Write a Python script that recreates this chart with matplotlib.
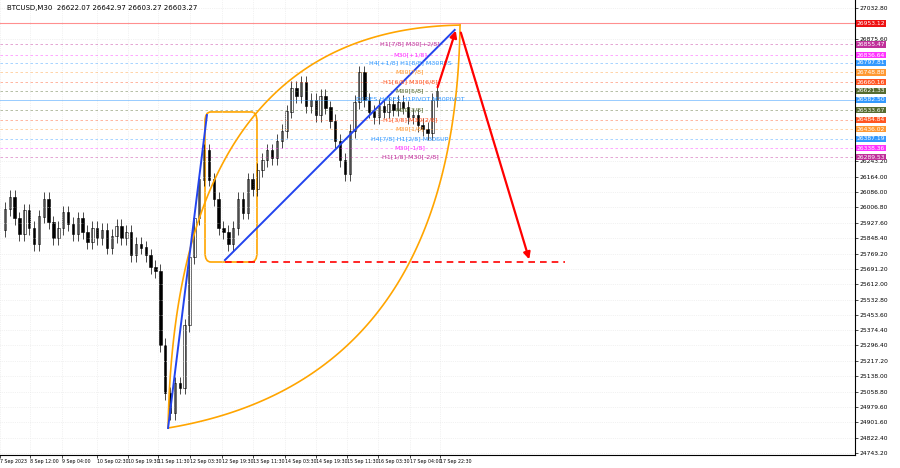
import numpy as np
import matplotlib.pyplot as plt
from matplotlib.patches import FancyBboxPatch

# ---- price closes (M30-ish, resampled) ----
closes = [25890, 26000, 26060, 25950, 25870, 25990, 25900, 25820, 25960, 26050,
          25930, 25850, 25900, 25980, 25920, 25870, 25950, 25880, 25830, 25900,
          25850, 25890, 25800, 25860, 25910, 25850, 25880, 25760, 25820, 25800,
          25760, 25700, 25680, 25300, 25050, 24950, 25100, 25080, 25400, 25750,
          25950, 26150, 26300, 26150, 26050, 25900, 25880, 25820, 25900, 26050,
          25980, 26150, 26100, 26200, 26250, 26300, 26260, 26350, 26400, 26500,
          26620, 26580, 26650, 26530, 26560, 26480, 26580, 26520, 26450, 26350,
          26250, 26180, 26400, 26550, 26700, 26560, 26500, 26470, 26530, 26500,
          26540, 26510, 26550, 26520, 26470, 26480, 26430, 26410, 26390, 26560, 26603]

# ---- levels: position on chart and the value shown in the price box ----
level_prices = [26847, 26791, 26750, 26703, 26652, 26606, 26560,
                26508, 26457, 26410, 26359, 26312, 26266]
level_boxes = [26855.47, 26836.64, 26797.81, 26748.88, 26660.16, 26621.33, 26582.50,
               26533.67, 26484.84, 26436.02, 26387.19, 26338.36, 26289.53]
level_colors = ["#c0309a", "#ff33ff", "#3399ff", "#ff9933", "#ff5522", "#556b2f", "#3399ff",
                "#556b2f", "#ff5522", "#ff9933", "#3399ff", "#ff33ff", "#c0309a"]
level_texts = ["H1[7/8] M30[+2/8]", "M30[+1/8]", "H4[+1/8] H1[8/8] M30RES", "M30[7/8]",
               "H1[6/8] M30[6/8]", "M30[5/8]", "D1RES H4RES H1PIVOT M30PIVOT", "M30[3/8]",
               "H1[3/8] M30[2/8]", "M30[1/8]", "H4[7/8] H1[2/8] M30SUP", "M30[-1/8]",
               "H1[1/8] M30[-2/8]"]
top_level = 26953.12

yticks = [24743.2, 24822.4, 24901.6, 24979.6, 25058.8, 25138.0, 25217.2, 25296.4, 25374.4,
          25453.6, 25532.8, 25612.0, 25691.2, 25769.2, 25848.4, 25927.6, 26006.8, 26086.0,
          26164.0, 26243.2, 26875.6, 27032.8]
date_labels = ["7 Sep 2023", "8 Sep 12:00", "9 Sep 04:00", "10 Sep 02:30", "10 Sep 19:30",
               "11 Sep 11:30", "12 Sep 03:30", "12 Sep 19:30", "13 Sep 11:30", "14 Sep 03:30",
               "14 Sep 19:30", "15 Sep 11:30", "16 Sep 03:30", "17 Sep 04:00", "17 Sep 22:30"]
date_pos = [0, 6.2, 12.8, 20.0, 26.3, 32.5, 39.1, 45.7, 52.1, 58.6, 65.0, 71.4, 77.8, 84.4, 90.5]

# ---- drawn objects (index, price) ----
blue1 = ([34.6, 42.6], [24872, 26482])
blue2 = ([46.3, 93.6], [25736, 26920])
red_dash = ([46.3, 116.3], [25726, 25726])
red_up = ((89.9, 26611), (94.0, 26930))
red_down = ((94.7, 26920), (109.1, 25726))
box = (42.2, 25726, 10.7, 772)
arc_start, arc_end = (34.6, 24872), (94.7, 26945)
arc_ctrl_up, arc_ctrl_low = (36.0, 26920), (93.6, 25119)

fig = plt.figure(figsize=(9, 4.68), dpi=100)
ax = fig.add_axes([0.0, 13 / 468, 855 / 900, 455 / 468])
ax.set_xlim(0, 176)
ax.set_ylim(24733, 27074)

for i in range(1, len(closes)):
    o, c = closes[i - 1], closes[i]
    ax.vlines(i, min(o, c) - 35, max(o, c) + 35, color="black", lw=0.5)
    ax.add_patch(plt.Rectangle((i - 0.25, min(o, c)), 0.5, abs(c - o) + 1,
                               facecolor="white" if c >= o else "black", edgecolor="black", lw=0.4))

ax.axhline(top_level, color="#ff4444", lw=0.8, alpha=0.6)
for p, b, col, t in zip(level_prices, level_boxes, level_colors, level_texts):
    solid = t.startswith("D1RES")
    ax.axhline(p, color=col, lw=0.7 if solid else 0.6, ls="-" if solid else (0, (3, 3)), alpha=0.5)
    ax.text(84.4, p, t, color=col, fontsize=4.6, ha="center", va="center")
    ax.text(1.002, p, f"{b:.2f}", transform=ax.get_yaxis_transform(), fontsize=4.3,
            color="white", va="center", ha="left", clip_on=False,
            bbox=dict(boxstyle="square,pad=0.15", fc=col, ec="none"))
ax.text(1.002, top_level, f"{top_level:.2f}", transform=ax.get_yaxis_transform(), fontsize=4.3,
        color="white", va="center", ha="left", clip_on=False,
        bbox=dict(boxstyle="square,pad=0.15", fc="#ee1111", ec="none"))

# orange arcs
t = np.linspace(0, 1, 100)
for ctrl in (arc_ctrl_up, arc_ctrl_low):
    bx = (1 - t) ** 2 * arc_start[0] + 2 * (1 - t) * t * ctrl[0] + t ** 2 * arc_end[0]
    by = (1 - t) ** 2 * arc_start[1] + 2 * (1 - t) * t * ctrl[1] + t ** 2 * arc_end[1]
    ax.plot(bx, by, color="orange", lw=1.2)
ax.add_patch(FancyBboxPatch((box[0], box[1]), box[2], box[3], boxstyle="round,pad=0,rounding_size=1.2",
                            mutation_aspect=40, fc="none", ec="orange", lw=1.2))
ax.plot(*blue1, color="#2244ee", lw=1.4)
ax.plot(*blue2, color="#2244ee", lw=1.4)
ax.plot(*red_dash, color="red", lw=1.2, ls=(0, (4, 3)))
for a, b in (red_up, red_down):
    ax.annotate("", xy=b, xytext=a, arrowprops=dict(arrowstyle="-|>", color="red", lw=1.6))

ax.grid(color="#e6e6e6", lw=0.5, ls=":")
ax.yaxis.tick_right()
ax.set_yticks(yticks)
ax.set_yticklabels([f"{v:.2f}" for v in yticks], fontsize=4.3)
ax.set_xticks(date_pos)
ax.set_xticklabels(date_labels, fontsize=3.4, ha="left")
ax.tick_params(length=2, width=0.5, pad=1)
for s in ("top", "left"):
    ax.spines[s].set_visible(False)
ax.text(0.008, 0.99, "BTCUSD,M30  26622.07 26642.97 26603.27 26603.27", transform=ax.transAxes,
        fontsize=5, va="top")

fig.savefig("out.png", dpi=100)
